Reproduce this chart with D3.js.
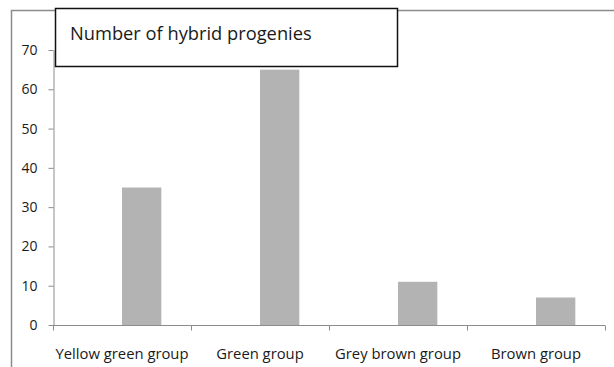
<!DOCTYPE html>
<html>
<head>
<meta charset="utf-8">
<script src="https://cdn.jsdelivr.net/npm/d3@7"></script>
<style>
  html, body { margin: 0; padding: 0; background: #fff; }
  svg { display: block; }
  text { font-family: "Open Sans", "Liberation Sans", sans-serif; fill: #1a1a1a; }
</style>
</head>
<body>
<svg id="chart" width="614" height="367"></svg>
<script>
// Number of hybrid progenies per colour group
const categories = ["Yellow green group", "Green group", "Grey brown group", "Brown group"];
const progenies = [35, 65, 11, 7];
const yTicks = [0, 10, 20, 30, 40, 50, 60, 70];
const chartTitle = "Number of hybrid progenies";

const svg = d3.select("#chart");
const W = 614, H = 367;
const plot = { left: 53, right: 605, top: 50, bottom: 325 };

// outer chart frame (runs off the right and bottom edges)
svg.append("path")
  .attr("d", `M11.5,${H + 5} V10.5 H${W + 5}`)
  .attr("fill", "none")
  .attr("stroke", "#8c8c8c")
  .attr("stroke-width", 1.5);

const x = d3.scaleBand().domain(categories).range([plot.left, plot.right]).padding(0);
const y = d3.scaleLinear().domain([0, 70]).range([plot.bottom, plot.top]);

// bars sit in the right half of each category slot
const barW = x.bandwidth() * 0.285;
svg.append("g").selectAll("rect")
  .data(categories.map((c, i) => ({ c, v: progenies[i] })))
  .join("rect")
  .attr("x", d => x(d.c) + x.bandwidth() / 2)
  .attr("width", barW)
  .attr("y", d => y(d.v))
  .attr("height", d => y(0) - y(d.v))
  .attr("fill", "#b3b3b3");

// y axis
const yAxis = svg.append("g")
  .attr("transform", `translate(${plot.left + 0.5},0)`)
  .call(d3.axisLeft(y).tickValues(yTicks).tickSize(5).tickPadding(11).tickSizeOuter(0));
yAxis.attr("font-size", 14).attr("font-family", "'Open Sans', sans-serif");
yAxis.select(".domain").attr("stroke", "#8c8c8c");
yAxis.selectAll(".tick line").attr("stroke", "#8c8c8c");
yAxis.selectAll(".tick text").attr("fill", "#1a1a1a");

// x axis: tick marks at slot boundaries
const xAxis = svg.append("g")
  .attr("transform", `translate(0,${plot.bottom + 0.5})`);
xAxis.append("line")
  .attr("x1", plot.left).attr("x2", plot.right)
  .attr("stroke", "#8c8c8c");
const bounds = categories.map(c => x(c)).concat([x(categories[categories.length - 1]) + x.bandwidth()]);
xAxis.selectAll("line.tick")
  .data(bounds)
  .join("line")
  .attr("class", "tick")
  .attr("x1", d => Math.round(d) + 0.5).attr("x2", d => Math.round(d) + 0.5)
  .attr("y1", 0).attr("y2", 5)
  .attr("stroke", "#8c8c8c");
xAxis.selectAll("text")
  .data(categories)
  .join("text")
  .attr("x", d => x(d) + x.bandwidth() / 2)
  .attr("y", 33)
  .attr("text-anchor", "middle")
  .attr("font-size", 14.8)
  .text(d => d);

// title box
svg.append("rect")
  .attr("x", 55.5).attr("y", 8.5)
  .attr("width", 342).attr("height", 58)
  .attr("fill", "#fff")
  .attr("stroke", "#111")
  .attr("stroke-width", 1.5);
svg.append("text")
  .attr("x", 70).attr("y", 40)
  .attr("font-size", 18.3)
  .text(chartTitle);
</script>
</body>
</html>
